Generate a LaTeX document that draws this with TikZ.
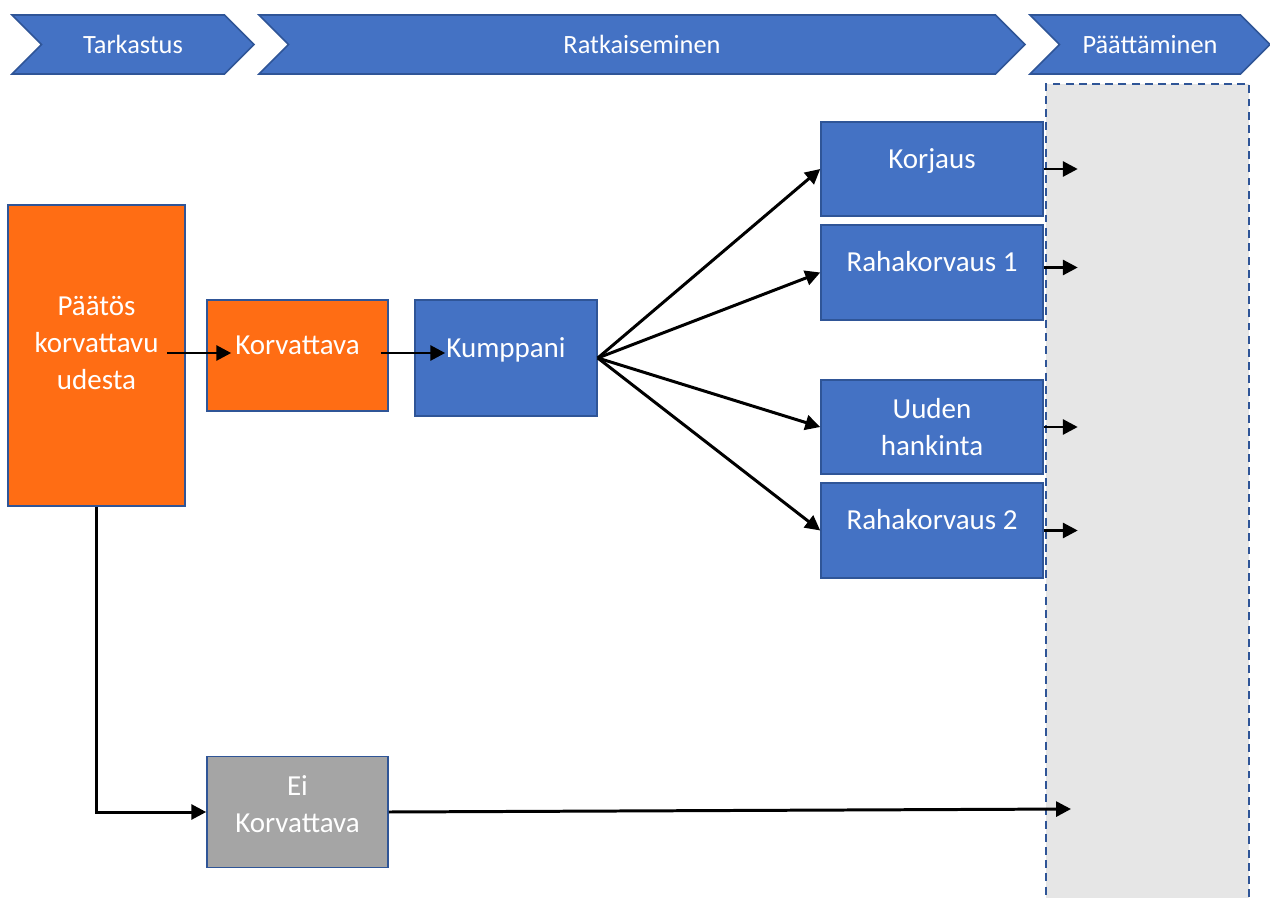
\documentclass[tikz,border=0pt]{standalone}
\usepackage{fontspec}
\setmainfont{Carlito}
\usepackage{tikz}
\usetikzlibrary{arrows.meta, positioning, calc, shapes.symbols}

\definecolor{boxblue}{HTML}{4472C4}
\definecolor{edgeblue}{HTML}{2F5597}
\definecolor{boxorange}{HTML}{FF6D14}
\definecolor{boxgrey}{HTML}{A5A5A5}
\definecolor{zonegrey}{HTML}{E6E6E6}

\begin{document}
\begin{tikzpicture}[
    x=0.02cm,y=-0.02cm,
    >={Triangle[length=8.5pt,width=8.5pt]},
    font=\fontsize{16.5}{21}\selectfont,
    block/.style={
        draw=edgeblue, line width=0.9pt,
        fill=boxblue, text=white,
        minimum width=4.44cm,
        minimum height=1.88cm,
        align=center,
        inner sep=2pt
    },
    oneline/.style={text height=12pt, text depth=13pt},
    orangeblock/.style={
        block, fill=boxorange,
        minimum width=3.62cm,
        minimum height=2.22cm
    },
    phase/.style={
        signal, signal from=west, signal to=east,
        draw=edgeblue, line width=0.9pt,
        fill=boxblue, text=white,
        font=\fontsize{15}{18}\selectfont,
        minimum height=1.18cm,
        inner sep=0pt
    },
    zone/.style={
        draw=edgeblue, line width=1.2pt,
        dash pattern=on 4.5pt off 3pt,
        fill=zonegrey,
        minimum width=4.06cm,
        minimum height=16.42cm
    },
    sig/.style={->, line width=1.7pt}
]
\useasboundingbox (0,0) rectangle (1270,898);

% --- Phase headers ---
\node[phase, minimum width=4.84cm] (tark) at (133,44.5) {Tarkastus};
\node[phase, minimum width=15.32cm] (ratk) at (642,44.5) {Ratkaiseminen};
\node[phase, minimum width=4.8cm] (paat) at (1150,44.5) {Päättäminen};

% --- Closing zone ---
\node[zone] (zone) at (1147.5,494.5) {};

% --- Decision and path ---
\node[orangeblock, minimum width=3.54cm, minimum height=6.02cm, text depth=14pt] (paatos) at (96.5,355.5)
{Päätös\\korvattavu\\udesta};

\node[orangeblock, oneline] (korv) at (297.5,355.5) {Korvattava};

\node[block, oneline, minimum width=3.64cm, minimum height=2.32cm] (kump) at (506,358) {Kumppani};

\node[block, oneline] (korjaus) at (932,169) {Korjaus};
\node[block, oneline, minimum height=1.9cm] (rk1) at (932,272.5) {Rahakorvaus 1};
\node[block] (uuden) at (932,427) {Uuden\\hankinta};
\node[block, oneline, minimum height=1.9cm] (rk2) at (932,530.5) {Rahakorvaus 2};

\node[orangeblock, fill=boxgrey, text depth=9pt] (ei) at (297.5,812) {Ei\\Korvattava};

% --- Main path ---
\draw[sig] ($(paatos.east)+(-19,-2.5)$) -- ($(korv.west)+(25,-2.5)$);
\draw[sig] ($(korv.east)+(-8,-2.5)$) -- ($(kump.west)+(31,-5)$);

% --- Partner options ---
\foreach \n in {korjaus, rk1, uuden, rk2}
    \draw[sig] (kump.east) -- (\n.west);

% --- Into closing ---
\draw[sig] (korjaus.east) -- ++(34,0);
\draw[sig] ($(rk1.east)+(0,-5)$) -- ++(34,0);
\draw[sig] (uuden.east) -- ++(34,0);
\draw[sig] (rk2.east) -- ++(34,0);

% --- Not compensated ---
\coordinate (eiend) at (1071,809);

\draw[sig] (paatos.south) |- (ei.west);
\draw[sig] (ei.east) -- (eiend);

\end{tikzpicture}
\end{document}
